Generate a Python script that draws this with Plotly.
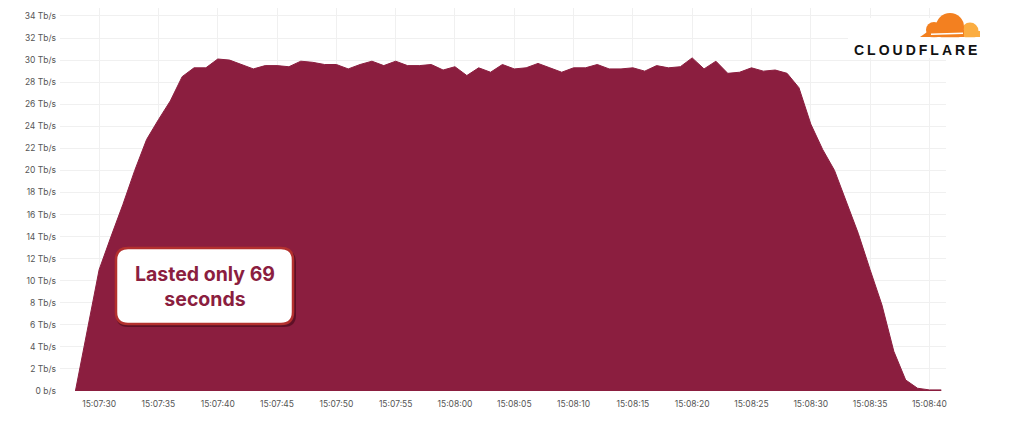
import plotly.graph_objects as go
import pandas as pd

# ---- data ----
start_time = "2024-01-01 15:07:28"
traffic_tbps = [
    0.0, 5.5, 11.0, 14.0, 16.9, 20.0, 22.8, 24.6, 26.3, 28.5,
    29.3, 29.3, 30.1, 30.0, 29.6, 29.2, 29.5, 29.5, 29.4, 29.9,
    29.8, 29.6, 29.6, 29.2, 29.6, 29.9, 29.5, 29.9, 29.5, 29.5,
    29.6, 29.1, 29.4, 28.6, 29.3, 28.9, 29.6, 29.2, 29.3, 29.7,
    29.3, 28.9, 29.3, 29.3, 29.6, 29.2, 29.2, 29.3, 29.0, 29.5,
    29.3, 29.4, 30.2, 29.2, 29.9, 28.8, 28.9, 29.3, 29.0, 29.1,
    28.8, 27.5, 24.2, 21.9, 20.0, 17.2, 14.3, 11.0, 7.8, 3.6,
    1.0, 0.25, 0.1, 0.1,
]
times = pd.date_range(start_time, periods=len(traffic_tbps), freq="s")
y_tick_vals = list(range(0, 36, 2))
y_tick_text = ["0 b/s"] + [f"{v} Tb/s" for v in y_tick_vals[1:]]
annotation_text = "Lasted only 69<br>seconds"
logo_text = "CLOUDFLARE"

FILL = "#8b1e3f"

W, H = 1024, 437
OFF = 8  # page body margin
L, R, T, B = 52, 86, 0, 54
PW, PH = W - L - R, H - T - B


def px(x):  # screen x -> paper
    return (x - OFF - L) / PW


def py(y):  # screen y -> paper
    return (H - B - (y - OFF)) / PH


fig = go.Figure()
fig.add_trace(go.Scatter(
    x=times, y=traffic_tbps, mode="lines", fill="tozeroy",
    line=dict(color=FILL, width=1), fillcolor=FILL, hoverinfo="skip",
))

shapes = []


def rrect(x0, y0, x1, y1, r):
    X0, X1 = px(x0), px(x1)
    Y0, Y1 = py(y0), py(y1)
    rx, ry = r / PW, r / PH
    return (f"M{X0+rx},{Y0} L{X1-rx},{Y0} Q{X1},{Y0} {X1},{Y0-ry} "
            f"L{X1},{Y1+ry} Q{X1},{Y1} {X1-rx},{Y1} L{X0+rx},{Y1} "
            f"Q{X0},{Y1} {X0},{Y1+ry} L{X0},{Y0-ry} Q{X0},{Y0} {X0+rx},{Y0} Z")


shapes.append(dict(type="path", xref="paper", yref="paper",
                   path=rrect(116, 250, 296, 327, 12),
                   fillcolor="rgba(40,0,10,0.45)", line=dict(width=0)))
shapes.append(dict(type="path", xref="paper", yref="paper",
                   path=rrect(116, 248, 293, 324, 12),
                   fillcolor="white", line=dict(color="#b3302e", width=2.5)))

# logo background
shapes.append(dict(type="rect", xref="paper", yref="paper",
                   x0=px(848), x1=px(1000), y0=py(58), y1=py(18),
                   fillcolor="white", line=dict(width=0), layer="above"))


def circ(cx, cy, r, color):
    return dict(type="circle", xref="paper", yref="paper",
                x0=px(cx - r), x1=px(cx + r), y0=py(cy + r), y1=py(cy - r),
                fillcolor=color, line=dict(width=0), layer="above")


shapes.append(circ(970, 31, 8.5, "#fbad41"))
shapes.append(dict(type="rect", xref="paper", yref="paper",
                   x0=px(962), x1=px(980), y0=py(37), y1=py(31),
                   fillcolor="#fbad41", line=dict(width=0), layer="above"))
shapes.append(circ(950, 27, 14, "#f38020"))
shapes.append(circ(934, 30, 8, "#f38020"))
shapes.append(dict(type="path", xref="paper", yref="paper",
                   path=f"M{px(920)},{py(37)} L{px(964)},{py(37)} L{px(964)},{py(30)} L{px(930)},{py(30)} Z",
                   fillcolor="#f38020", line=dict(width=0), layer="above"))
shapes.append(dict(type="line", xref="paper", yref="paper",
                   x0=px(931), x1=px(963), y0=py(34.2), y1=py(33.2),
                   line=dict(color="white", width=1.4), layer="above"))
shapes.append(dict(type="rect", xref="paper", yref="paper",
                   x0=px(900), x1=px(1000), y0=py(42), y1=py(37.2),
                   fillcolor="white", line=dict(width=0), layer="above"))

fig.update_layout(
    width=W, height=H,
    margin=dict(l=L, r=R, t=T, b=B),
    paper_bgcolor="white", plot_bgcolor="white",
    showlegend=False,
    shapes=shapes,
    font=dict(family="Inter, Noto Sans, sans-serif", color="#555"),
    xaxis=dict(
        range=[pd.Timestamp("2024-01-01 15:07:26.7"), pd.Timestamp("2024-01-01 15:08:41.4")],
        tickformat="%H:%M:%S", dtick=5000, tick0="2024-01-01 15:07:30",
        showgrid=True, gridcolor="#f0f0f0", gridwidth=1,
        zeroline=False, showline=False, ticks="",
        tickfont=dict(size=8.5, color="#555"), ticklabelstandoff=6,
    ),
    yaxis=dict(
        range=[0, (H - B - T) / 11.03], tickvals=y_tick_vals, ticktext=y_tick_text,
        showgrid=True, gridcolor="#f0f0f0", gridwidth=1,
        zeroline=False, showline=False, ticks="",
        tickfont=dict(size=8.5, color="#555"), ticklabelstandoff=3,
    ),
    annotations=[
        dict(xref="paper", yref="paper", x=px(204.5), y=py(286),
             text=f"<b>{annotation_text}</b>", showarrow=False,
             font=dict(family="Inter, Noto Sans, sans-serif", size=19.5, color="#8b1e3f"),
             align="center", xanchor="center", yanchor="middle"),
        dict(xref="paper", yref="paper", x=px(917), y=py(50),
             text=f"<b><span style='letter-spacing:3px'>{logo_text}</span></b>",
             showarrow=False,
             font=dict(family="Liberation Sans, Arial, sans-serif", size=14, color="#111"),
             xanchor="center", yanchor="middle"),
    ],
)

fig.write_html("out.html")
